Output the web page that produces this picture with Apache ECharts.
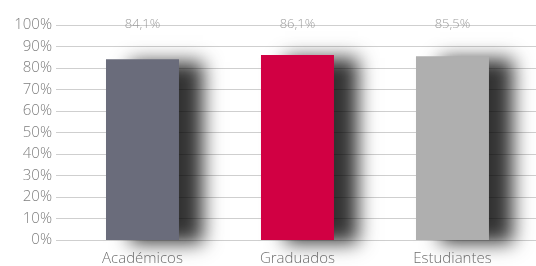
<!DOCTYPE html>
<html lang="es">
<head>
    <meta charset="UTF-8">
    <title>Porcentaje por colectivo</title>
    <script src="https://cdn.jsdelivr.net/npm/echarts@6/dist/echarts.min.js"></script>
    <style>
        html, body { margin: 0; padding: 0; background: #fff; }
        #chart { width: 536px; height: 266px; }
    </style>
</head>
<body>
<div id="chart"></div>
<script>
    // datos
    var categorias = ['Académicos', 'Graduados', 'Estudiantes'];
    var valores = [84.1, 86.1, 85.5];
    var etiquetas = ['84,1%', '86,1%', '85,5%'];
    var colores = ['#6a6c7b', '#d10043', '#afafaf'];

    var chart = echarts.init(document.getElementById('chart'));

    var barras = valores.map(function (v, i) {
        return { value: [i, v], itemStyle: { color: colores[i] } };
    });
    // etiquetas fijas sobre la linea del 100%
    var arriba = valores.map(function (v, i) {
        return [i, 100];
    });

    chart.setOption({
        animation: false,
        textStyle: { fontFamily: 'Open Sans', fontWeight: 300 },
        grid: { left: 56, right: 0, top: 25, bottom: 26 },
        xAxis: {
            type: 'value',
            min: -0.558,
            max: 2.539,
            splitLine: { show: false },
            axisLine: { show: false },
            axisTick: { show: false },
            axisLabel: {
                customValues: [0, 1, 2],
                color: '#6f6f6f',
                fontSize: 15,
                fontWeight: 300,
                margin: 11,
                formatter: function (v) { return categorias[Math.round(v)]; }
            }
        },
        yAxis: {
            type: 'value',
            min: 0,
            max: 100,
            interval: 10,
            axisLine: { show: false },
            axisTick: { show: false },
            axisLabel: {
                color: '#7f7f7f',
                fontSize: 15,
                fontWeight: 300,
                margin: 4,
                formatter: '{value}%'
            },
            splitLine: { lineStyle: { color: '#cfcfcf', width: 1 } }
        },
        series: [{
            type: 'bar',
            barWidth: 73,
            data: barras,
            itemStyle: {
                shadowColor: 'rgba(0,0,0,0.8)',
                shadowBlur: 18,
                shadowOffsetX: 24,
                shadowOffsetY: 3
            }
        }, {
            type: 'scatter',
            symbolSize: 0,
            data: arriba,
            label: {
                show: true,
                position: 'inside',
                offset: [0, -1],
                color: '#858585',
                fontSize: 13,
                fontWeight: 300,
                formatter: function (p) { return etiquetas[p.dataIndex]; }
            }
        }]
    });
</script>
</body>
</html>
